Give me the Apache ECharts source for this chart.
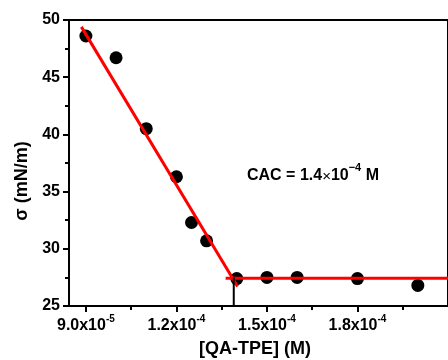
<!DOCTYPE html>
<html>
<head>
<meta charset="utf-8">
<script src="https://cdn.jsdelivr.net/npm/echarts@6/dist/echarts.min.js"></script>
<style>html,body{margin:0;padding:0;background:#fff}#c{width:448px;height:360px}</style>
</head>
<body>
<div id="c"></div>
<script>
// Data (concentration in M, surface tension in mN/m)
const concentration = [9.0e-5, 1.0e-4, 1.1e-4, 1.2e-4, 1.25e-4, 1.3e-4, 1.4e-4, 1.5e-4, 1.6e-4, 1.8e-4, 2.0e-4];
const tension = [48.6, 46.7, 40.5, 36.3, 32.3, 30.7, 27.4, 27.5, 27.5, 27.4, 26.8];
const fitDecline = [[8.85e-5, 49.4], [1.4025e-4, 26.7]];
const fitPlateau = [[1.363e-4, 27.42], [2.1e-4, 27.42]];
const cacMarker = [[1.39e-4, 27.5], [1.39e-4, 25]];
const xMajorTicks = [9.0e-5, 1.2e-4, 1.5e-4, 1.8e-4];
const xMinorTicks = [1.05e-4, 1.35e-4, 1.65e-4, 1.95e-4];
const xTickMantissa = ['9.0', '1.2', '1.5', '1.8'];
const xTickExponent = ['-5', '-4', '-4', '-4'];

const FONT = 'Arial, "Liberation Sans", sans-serif';
const chart = echarts.init(document.getElementById('c'));
const xMin = 8.44e-5, xMax = 2.1e-4;

chart.setOption({
  animation: false,
  grid: { left: 69, top: 20, width: 403.3, height: 286, show: true, borderColor: '#000', borderWidth: 2, backgroundColor: 'transparent' },
  xAxis: [{
    type: 'value', min: xMin, max: xMax, position: 'bottom',
    splitLine: { show: false },
    axisLine: { lineStyle: { color: '#000', width: 2 } },
    axisTick: { show: true, customValues: xMajorTicks, length: 6, lineStyle: { color: '#000', width: 2 } },
    axisLabel: {
      customValues: xMajorTicks, margin: 8, color: '#000',
      formatter: function (v) {
        let i = xMajorTicks.findIndex(t => Math.abs(t - v) < 1e-9);
        if (i < 0) return '';
        return '{b|' + xTickMantissa[i] + 'x10}{s|' + xTickExponent[i] + '}';
      },
      rich: {
        b: { fontFamily: FONT, fontWeight: 'bold', fontSize: 16, color: '#000', lineHeight: 20, verticalAlign: 'bottom' },
        s: { fontFamily: FONT, fontWeight: 'bold', fontSize: 10, color: '#000', lineHeight: 20, verticalAlign: 'top' }
      }
    }
  }, {
    type: 'value', min: xMin, max: xMax, position: 'bottom',
    splitLine: { show: false },
    axisLine: { show: false },
    axisTick: { show: true, customValues: xMinorTicks, length: 4, lineStyle: { color: '#000', width: 2 } },
    axisLabel: { show: false }
  }],
  yAxis: {
    type: 'value', min: 25, max: 50, interval: 5,
    splitLine: { show: false },
    axisLine: { show: true, lineStyle: { color: '#000', width: 2 } },
    axisTick: { show: true, length: 6, lineStyle: { color: '#000', width: 2 } },
    minorTick: { show: true, splitNumber: 2, length: 4, lineStyle: { color: '#000', width: 2 } },
    axisLabel: { color: '#000', fontFamily: FONT, fontWeight: 'bold', fontSize: 16, margin: 9 }
  },
  graphic: [
    { type: 'text', left: 247, top: 162, style: {
      text: '{a|CAC = 1.4}{x|×}{a|10}{s|−4}{a| M}', fill: '#000',
      rich: {
        a: { fontFamily: FONT, fontWeight: 'bold', fontSize: 16, lineHeight: 22, verticalAlign: 'bottom' },
        x: { fontFamily: FONT, fontSize: 15, lineHeight: 22, verticalAlign: 'bottom' },
        s: { fontFamily: FONT, fontWeight: 'bold', fontSize: 11, lineHeight: 22, verticalAlign: 'top' }
      } } },
    { type: 'text', x: 255, y: 349, style: { text: '[QA-TPE] (M)', fill: '#000', font: 'bold 18px ' + FONT, align: 'center', verticalAlign: 'middle' } },
    { type: 'text', x: 22, y: 181, rotation: Math.PI / 2, style: { text: 'σ (mN/m)', fill: '#000', font: 'bold 18px ' + FONT, align: 'center', verticalAlign: 'middle' } }
  ],
  series: [
    { type: 'scatter', data: concentration.map((x, i) => [x, tension[i]]), symbol: 'circle', symbolSize: 13, itemStyle: { color: '#000', opacity: 1 }, z: 2 },
    { type: 'line', data: fitDecline, showSymbol: false, lineStyle: { color: '#ff0000', width: 3 }, z: 5 },
    { type: 'line', data: fitPlateau, showSymbol: false, lineStyle: { color: '#ff0000', width: 3 }, z: 5 },
    { type: 'line', data: cacMarker, showSymbol: false, lineStyle: { color: '#000', width: 2 }, z: 6 }
  ]
});
</script>
</body>
</html>
